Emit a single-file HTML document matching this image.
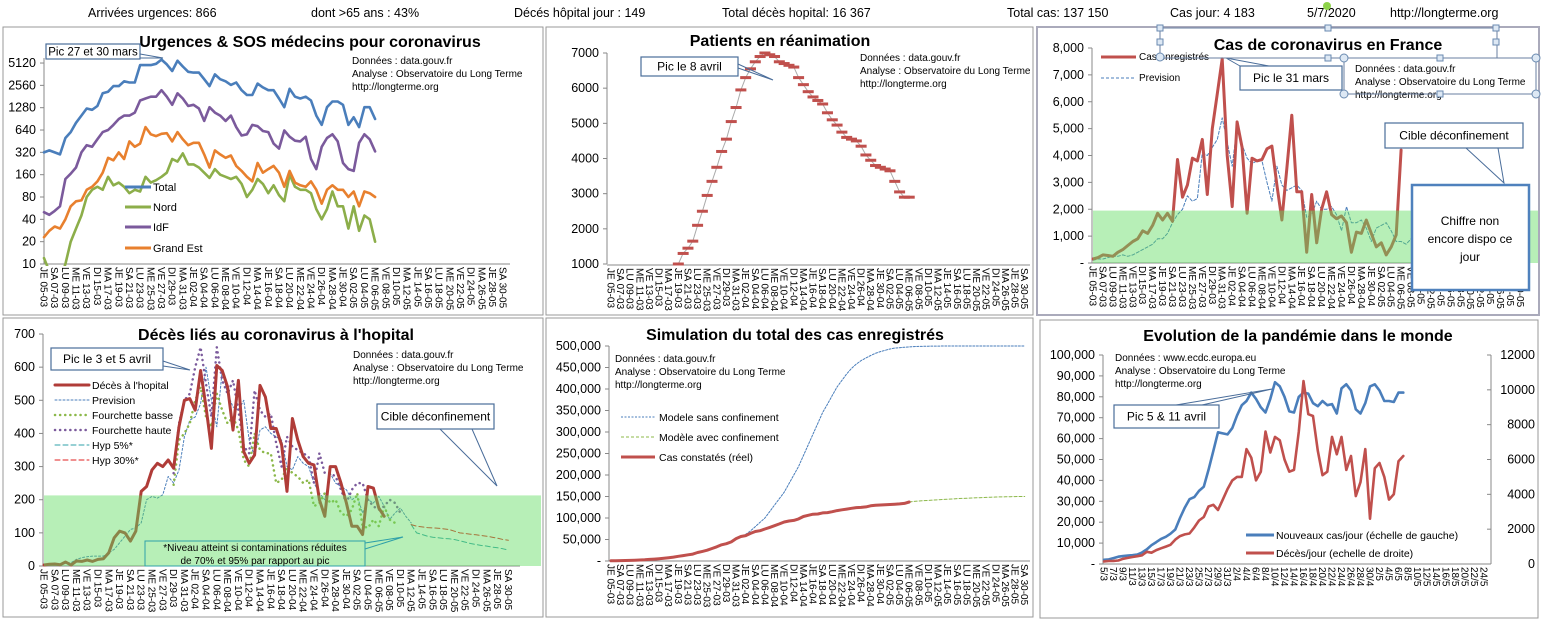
<!DOCTYPE html>
<html><head><meta charset="utf-8">
<style>
body{margin:0;background:#fff;width:1543px;height:622px;overflow:hidden;font-family:"Liberation Sans",sans-serif;}
svg{position:absolute;left:0;top:0;}
text{font-family:"Liberation Sans",sans-serif;}
</style></head><body>
<svg id="s" width="1543" height="622" xmlns="http://www.w3.org/2000/svg">
<g font-size="12.5" fill="#000">
<text x="88" y="17">Arrivées urgences:  866</text>
<text x="311" y="17">dont &gt;65 ans : 43%</text>
<text x="514" y="17">Décés hôpital jour :  149</text>
<text x="722" y="17">Total décès hopital: 16 367</text>
<text x="1007" y="17">Total cas: 137 150</text>
<text x="1170" y="17">Cas jour: 4 183</text>
<text x="1307" y="17">5/7/2020</text>
<text x="1390" y="17">http://longterme.org</text>
</g>
<circle cx="1327" cy="6" r="4" fill="#8ed34a"/>
<rect x="3" y="27" width="540" height="288" fill="none" stroke="#999"/>
<rect x="546" y="27" width="487" height="288" fill="none" stroke="#999"/>
<rect x="1037" y="27" width="502" height="288" fill="none" stroke="#aab" stroke-width="2"/>
<rect x="3" y="318" width="540" height="299" fill="none" stroke="#999"/>
<rect x="546" y="318" width="487" height="299" fill="none" stroke="#999"/>
<rect x="1040" y="320" width="498" height="298" fill="none" stroke="#999"/>
</svg>
<script>
// ---------- data ----------
const urgTotal=[320,340,320,300,500,600,800,1000,1250,1200,1350,2000,2100,2500,2500,2900,2800,2800,4800,4800,4800,5000,5700,4900,4000,5500,4600,3900,3800,3800,3100,2500,3600,3100,2900,2600,2800,2200,1900,1900,2700,2400,2200,2200,1700,1300,2300,1800,1700,1800,1600,1000,750,1300,1550,1550,1400,750,950,700,1300,1300,900];
const urgIdF=[50,46,52,60,140,165,200,320,400,380,480,600,640,750,900,1000,1000,1100,1600,1700,1800,1800,2200,1800,1400,2000,1700,1350,1400,1250,850,1300,1100,1000,850,1000,700,540,560,750,720,620,600,420,360,630,520,460,450,520,260,190,380,500,560,450,230,190,180,430,560,480,330];
const urgGE=[23,28,32,30,40,60,70,72,100,110,130,170,270,250,320,260,450,380,420,700,560,530,570,580,450,600,480,400,430,430,300,200,340,300,270,290,210,180,150,130,230,170,190,210,170,110,180,125,115,110,130,100,65,100,115,100,100,80,95,60,95,90,80];
const urgNord=[12,8,6,6,10,20,30,45,80,100,110,100,150,115,125,110,90,100,95,150,125,135,150,170,260,240,310,220,220,200,170,145,190,160,150,140,150,120,80,100,140,120,90,115,85,70,160,110,100,100,90,55,40,55,95,60,60,30,60,28,45,40,20];
const reaStart=14;
const rea=[1000,1300,1450,1650,2100,2500,2950,3350,3750,4200,4550,5050,5450,5950,6300,6550,6750,6900,7000,6950,6900,6750,6700,6650,6600,6300,6100,5900,5750,5650,5550,5300,5100,4950,4750,4600,4550,4500,4350,4100,3950,3800,3750,3700,3650,3350,3050,2900,2900];
const casFr=[150,200,300,280,250,400,500,650,800,900,1200,1100,1400,1850,1600,1850,1550,3850,2450,2900,3900,3800,4600,2550,5000,6300,7600,4000,2100,5250,4300,1850,3900,3800,3850,4250,4350,2900,1600,3500,5500,2650,2650,400,2550,750,2000,2650,1800,1650,1750,1500,400,1150,1100,1600,1100,600,750,300,600,1050,4200];
const casPrev=[100,150,150,200,250,250,300,250,300,400,500,600,700,900,900,1100,1500,1800,2000,2500,2300,2400,4100,4000,4300,4600,5400,4500,3600,5100,4400,3900,3700,3800,3800,3000,2300,3600,2900,2700,2800,2900,2700,1700,1800,2300,2000,2000,2100,1800,1200,2100,1500,1500,1600,1300,800,1300,1400,1500,1200,800,800,700,900,1100];
const deces=[3,5,6,4,12,3,15,14,18,14,20,22,40,85,105,100,75,105,225,240,290,310,300,320,295,420,500,505,470,590,480,355,605,590,540,410,560,345,310,335,545,510,415,415,365,225,445,380,330,310,305,200,150,300,300,250,190,120,120,95,240,235,175,150];
const decPrev=[3,3,4,5,8,10,20,25,28,30,30,30,40,50,70,90,110,115,130,200,210,205,215,270,250,290,390,440,450,490,600,500,420,590,520,480,470,500,380,330,410,420,400,390,380,300,290,330,310,300,250,220,200,280,250,240,230,200,210,160,200,190,210,180,140,160,175,150,130];
const basseStart=24;
const decBasse=[245,380,400,430,500,540,450,420,520,470,430,450,410,320,300,400,350,340,340,250,260,300,280,270,250,260,180,190,220,190,200,160,150,170,220,120,115,140,120,180,140,130];
const decHaute=[280,430,500,520,600,660,550,450,660,560,520,560,470,360,340,530,470,450,460,370,300,390,360,350,340,330,250,340,280,280,270,230,190,230,250,250,200,180,170,180,200,190,160];
const hypStart=68;
const hyp30=[125,120,118,116,115,114,112,110,105,100,98,96,94,92,90,87,84,80,78];
const hyp5=[125,100,95,90,87,85,83,82,80,76,72,68,65,62,60,57,55,52,48];
const simReel=[400,600,900,1200,1400,1800,2300,2900,3700,4500,5400,6600,7700,9100,10900,12600,14500,16000,19800,22300,25200,29100,33000,37600,40200,44500,52100,56900,59100,64300,68600,70500,74400,78200,82000,86300,90700,93000,94400,98000,103500,106200,108800,109300,111800,112600,114700,117300,119100,120600,122600,124100,124600,125800,128400,129600,130200,130900,131300,132200,132900,134000,137150];
const sansStart=28;
const simSans=[62000,70000,80000,90000,100000,115000,130000,145000,160000,180000,200000,220000,245000,270000,295000,320000,345000,365000,385000,405000,420000,435000,448000,458000,466000,472000,478000,483000,487000,490000,493000,495000,496000,497000,498000,498500,499000,499300,499500,499700,499800,499900,500000,500000,500000,500000,500000,500000,500000,500000,500000,500000,500000,500000,500000,500000,500000,500000,500000];
const avecStart=62;
const simAvec=[137150,138500,139500,140300,141000,141700,142300,143000,143700,144300,145000,145500,146000,146500,147000,147500,148000,148400,148800,149100,149400,149600,149800,150000,150000];
const mondeCas=[2000,2200,2800,3500,3800,4000,4200,4500,5500,7000,9000,10500,12000,13000,14500,16500,22000,27000,31000,32000,35000,37000,45000,54000,63000,62500,62000,65000,71000,76000,78000,82000,79000,75000,72500,79000,87000,85000,80000,73000,72500,80000,82000,81500,77000,75500,78000,76000,76500,72000,84000,86000,83000,74000,72000,77000,85000,86000,83000,78000,78000,77500,82000,82000];
const mondeDec=[150,170,180,200,300,350,400,450,500,700,650,800,900,1000,1100,1400,1600,1700,1750,2100,2500,2700,3300,3400,3100,3700,4300,4800,5000,5000,6600,6100,4800,5300,7600,6400,7300,7100,6000,5300,5400,7600,10500,8600,8500,6500,5100,5300,7300,6300,7300,5400,6200,3900,4700,6600,2600,5500,5800,5000,3700,4000,5900,6200];
const urgTicks=[10,20,40,80,160,320,640,1280,2560,5120];
const reaTicks=[1000,2000,3000,4000,5000,6000,7000];
const casTicks=[0,1000,2000,3000,4000,5000,6000,7000,8000];
const decTicks=[0,100,200,300,400,500,600,700];
const simTicks=[0,50000,100000,150000,200000,250000,300000,350000,400000,450000,500000];
const mondeLTicks=[0,10000,20000,30000,40000,50000,60000,70000,80000,90000,100000];
const mondeRTicks=[0,2000,4000,6000,8000,10000,12000];

// ---------- helpers ----------
const S=document.getElementById('s');const NS='http://www.w3.org/2000/svg';
function el(tag,attrs,name,parent){const e=document.createElementNS(NS,tag);for(const k in attrs)e.setAttribute(k,attrs[k]);


(parent||S).appendChild(e);return e;}
function txt(x,y,s,name,attrs){const t=el('text',Object.assign({x:x,y:y,'font-size':11},attrs||{}),name);t.textContent=s;return t;}
function series(vals,start,X,Y,attrs,name){const pts=vals.map((v,i)=>X(start+i).toFixed(1)+','+Y(v).toFixed(1)).join(' ');
return el('polyline',Object.assign({points:pts,fill:'none','stroke-linejoin':'round','stroke-linecap':'round'},attrs),name);}
const fmt=v=>v===0?'-':v.toLocaleString('en-US');
function yAxis(x,ticks,Y,lab,name,anchorRight){ticks.forEach(t=>{
el('line',{x1:anchorRight?x:x-4,x2:anchorRight?x+4:x,y1:Y(t),y2:Y(t),stroke:'#888'},name+'-tick');
txt(anchorRight?x+10:x-8,Y(t)+4,lab(t),name+'-label',{'font-size':12.5,'text-anchor':anchorRight?'start':'end'});});}
const DN=['DI','LU','MA','ME','JE','VE','SA'];
function dateLab(i){const d=new Date(2020,2,5+i);return DN[d.getDay()]+' '+String(d.getDate()).padStart(2,'0')+'-'+String(d.getMonth()+1).padStart(2,'0');}
function xAxis(X,y,x0,x1,name,labfn,n){el('line',{x1:x0,x2:x1,y1:y,y2:y,stroke:'#888'},name+'-line');
for(let i=0;i<=n;i+=2){const x=X(i);const t=el('text',{x:0,y:0,'font-size':10,transform:`translate(${(x-3.5).toFixed(1)},${y+3}) rotate(90)`},name+'-label');t.textContent=labfn(i);}}
function box(x,y,w,h,s,name,fs,stroke){el('rect',{x:x,y:y,width:w,height:h,fill:'#fff',stroke:stroke||'#4a6d9a','stroke-width':1.2},name);
txt(x+w/2,y+h/2+4,s,name+'-text',{'font-size':fs||12,'text-anchor':'middle'});}
function title(x,y,s,name){txt(x,y,s,name,{'font-size':16,'font-weight':'bold','text-anchor':'middle'});}
function src(x,y,lines,name){lines.forEach((l,i)=>txt(x,y+i*13,l,name,{'font-size':10}));}
const SRC=['Données : data.gouv.fr','Analyse : Observatoire du Long Terme','http://longterme.org'];

// ---------- chart 1: urgences ----------
{const X=i=>44+i*5.34, Y=v=>264-Math.log2(v/10)*22.33;
el('line',{x1:44,x2:44,y1:58,y2:264,stroke:'#888'},'urg-y-axis');
yAxis(44,urgTicks,Y,t=>String(t),'urg-y');
xAxis(X,264,44,510,'urg-x',dateLab,86);
const clip=el('clipPath',{id:'c1'},'urg-clip');el('rect',{x:40,y:30,width:480,height:236},'urg-clip-rect',clip);
const g=el('g',{'clip-path':'url(#c1)'},'urg-series');
[[urgTotal,'#4a7ebb','urg-total'],[urgNord,'#8cae4a','urg-nord'],[urgIdF,'#7b5a9c','urg-idf'],[urgGE,'#e8802e','urg-grand-est']].forEach(s=>{g.appendChild(series(s[0],0,X,Y,{stroke:s[1],'stroke-width':2.6},s[2]));});
title(310,47,'Urgences & SOS médecins pour coronavirus','urg-title');
src(352,64,SRC,'urg-source');
[['Total','#4a7ebb',191],['Nord','#8cae4a',211],['IdF','#7b5a9c',231],['Grand Est','#e8802e',252]].forEach(l=>{
el('line',{x1:125,x2:151,y1:l[2]-4,y2:l[2]-4,stroke:l[1],'stroke-width':3},'urg-legend-swatch');
txt(153,l[2],l[0],'urg-legend-label',{'font-size':11});});
el('polyline',{points:'140,54 163,58 140,58',fill:'none',stroke:'#4a6d9a'},'urg-callout-pointer');
box(46,44,94,15,'Pic 27 et 30 mars','urg-callout',11.5);}

// ---------- chart 2: reanimation ----------
{const X=i=>611+i*4.81, Y=v=>264-(v-1000)*211/6000;
el('line',{x1:607,x2:607,y1:53,y2:264,stroke:'#888'},'rea-y-axis');
yAxis(607,reaTicks,Y,t=>String(t),'rea-y');
xAxis(X,265,607,1030,'rea-x',dateLab,86);
series(rea,reaStart,X,Y,{stroke:'#aaa','stroke-width':1},'rea-line');
rea.forEach((v,i)=>{el('rect',{x:X(reaStart+i)-5.5,y:Y(v)-1.5,width:11,height:3,fill:'#c0504d'},'rea-marker');});
title(780,46,'Patients en réanimation','rea-title');
src(860,61,SRC,'rea-source');
el('polyline',{points:'738,64 773,80 738,68',fill:'none',stroke:'#4a6d9a'},'rea-callout-pointer');
box(641,57,97,19,'Pic le 8 avril','rea-callout',12);}

// ---------- chart 3: cas France ----------
{const X=i=>1093+i*4.97, Y=v=>263-v*215/8000;
el('line',{x1:1092,x2:1092,y1:48,y2:263,stroke:'#888'},'cas-y-axis');
yAxis(1092,casTicks,Y,fmt,'cas-y');
xAxis(X,263,1088,1530,'cas-x',dateLab,86);
series(casPrev,0,X,Y,{stroke:'#4a7ebb','stroke-width':1,'stroke-dasharray':'3,2'},'cas-prevision');
series(casFr,0,X,Y,{stroke:'#c0504d','stroke-width':3},'cas-enregistres');
el('rect',{x:1093,y:Y(1950),width:445,height:263-Y(1950),fill:'#5fdc5f','fill-opacity':0.45},'cas-cible-band');
title(1328,50,'Cas de coronavirus en France','cas-title');
el('line',{x1:1101,x2:1136,y1:57,y2:57,stroke:'#c0504d','stroke-width':3},'cas-legend-swatch');
txt(1139,60,'Cas enregistrés','cas-legend-label',{'font-size':10});
el('line',{x1:1101,x2:1136,y1:78,y2:78,stroke:'#4a7ebb','stroke-dasharray':'3,2'},'cas-legend-swatch');
txt(1139,81,'Prevision','cas-legend-label',{'font-size':10});
el('polyline',{points:'1240,66 1226,58 1280,68',fill:'none',stroke:'#4a6d9a'},'cas-callout-pointer');
box(1240,66,102,24,'Pic le 31  mars','cas-callout',12);
src(1355,72,SRC,'cas-source');
el('rect',{x:1344,y:58,width:192,height:36,fill:'none',stroke:'#6a7fa0'},'cas-source-selection');
el('rect',{x:1160,y:28,width:337,height:30,fill:'none',stroke:'#6a7fa0'},'cas-title-selection');
[[1160,28],[1328,28],[1496,28],[1160,42],[1496,42],[1328,58],[1440,58],[1440,94]].forEach(p=>el('rect',{x:p[0]-3,y:p[1]-3,width:6,height:6,fill:'#dde8f4',stroke:'#6a8ab0'},'selection-handle'));
[[1160,57],[1344,58],[1536,58],[1344,94],[1536,94]].forEach(p=>el('circle',{cx:p[0],cy:p[1],r:4,fill:'#dde8f4',stroke:'#6a8ab0'},'selection-handle'));
el('polyline',{points:'1466,148 1504,183 1498,148',fill:'none',stroke:'#4a6d9a'},'cas-cible-pointer');
box(1385,123,138,25,'Cible déconfinement','cas-cible-callout',12);
el('rect',{x:1412,y:185,width:117,height:105,fill:'#fff',stroke:'#4f81bd','stroke-width':2.5},'cas-non-dispo-box');
txt(1470,225,'Chiffre non','cas-non-dispo-text',{'font-size':12,'text-anchor':'middle'});
txt(1470,243,'encore dispo ce','cas-non-dispo-text',{'font-size':12,'text-anchor':'middle'});
txt(1470,261,'jour','cas-non-dispo-text',{'font-size':12,'text-anchor':'middle'});}

// ---------- chart 4: deces ----------
{const X=i=>44+i*5.4, Y=v=>566-v*0.3314;
el('line',{x1:43,x2:43,y1:334,y2:566,stroke:'#888'},'dec-y-axis');
yAxis(43,decTicks,Y,t=>String(t),'dec-y');
xAxis(X,566,43,520,'dec-x',dateLab,86);
series(decPrev,0,X,Y,{stroke:'#4a7ebb','stroke-width':1,'stroke-dasharray':'2,2'},'dec-prevision');
series(decBasse,basseStart,X,Y,{stroke:'#8cb84a','stroke-width':2.5,'stroke-dasharray':'0.1,5'},'dec-fourchette-basse');
series(decHaute,basseStart,X,Y,{stroke:'#7b5a9c','stroke-width':2.5,'stroke-dasharray':'0.1,5'},'dec-fourchette-haute');
series(hyp5,hypStart,X,Y,{stroke:'#2fa0a8','stroke-width':1,'stroke-dasharray':'5,3'},'dec-hyp5');
series(hyp30,hypStart,X,Y,{stroke:'#e02020','stroke-width':1,'stroke-dasharray':'5,3'},'dec-hyp30');
series(deces,0,X,Y,{stroke:'#b03c38','stroke-width':3},'dec-hopital');
el('rect',{x:44,y:Y(213),width:497,height:566-Y(213),fill:'#5fdc5f','fill-opacity':0.45},'dec-cible-band');
title(276,340,"Décès liés au coronavirus à l'hopital",'dec-title');
src(353,358,SRC,'dec-source');
el('polyline',{points:'163,361 190,370 163,366',fill:'none',stroke:'#4a6d9a'},'dec-callout-pointer');
box(51,348,112,22,'Pic le 3 et 5 avril','dec-callout',12);
const leg=[["Décès à l'hopital",'#b03c38',3,'none'],['Prevision','#4a7ebb',1,'2,2'],['Fourchette basse','#8cb84a',2.5,'0.1,5'],['Fourchette haute','#7b5a9c',2.5,'0.1,5'],['Hyp 5%*','#2fa0a8',1,'5,3'],['Hyp 30%*','#e02020',1,'5,3']];
leg.forEach((l,i)=>{const y=389+i*15;el('line',{x1:55,x2:89,y1:y-4,y2:y-4,stroke:l[1],'stroke-width':l[2],'stroke-dasharray':l[3],'stroke-linecap':'round'},'dec-legend-swatch');
txt(92,y,l[0],'dec-legend-label',{'font-size':10.5});});
el('polyline',{points:'440,429 497,486 472,429',fill:'none',stroke:'#4a6d9a'},'dec-cible-pointer');
box(377,404,117,25,'Cible déconfinement','dec-cible-callout',12);
el('polyline',{points:'365,543 403,537 365,549',fill:'none',stroke:'#2fa0a8'},'dec-note-pointer');
el('rect',{x:145,y:541,width:220,height:25,fill:'none',stroke:'#2fa0a8'},'dec-note-box');
txt(255,551,'*Niveau atteint si contaminations réduites','dec-note-text',{'font-size':10,'text-anchor':'middle'});
txt(255,564,'de 70% et 95% par rapport au pic','dec-note-text',{'font-size':10,'text-anchor':'middle'});}

// ---------- chart 5: simulation ----------
{const X=i=>611+i*4.81, Y=v=>561-v*215/500000;
el('line',{x1:609,x2:609,y1:346,y2:561,stroke:'#888'},'sim-y-axis');
yAxis(609,simTicks,Y,fmt,'sim-y');
xAxis(X,561,609,1030,'sim-x',dateLab,86);
series(simSans,sansStart,X,Y,{stroke:'#4a7ebb','stroke-width':1,'stroke-dasharray':'2,1.5'},'sim-sans-confinement');
series(simAvec,avecStart,X,Y,{stroke:'#8cb84a','stroke-width':1,'stroke-dasharray':'3,2'},'sim-avec-confinement');
series(simReel,0,X,Y,{stroke:'#c0504d','stroke-width':3},'sim-reel');
title(795,340,'Simulation du total des cas enregistrés','sim-title');
src(615,362,SRC,'sim-source');
[['Modele sans confinement','#4a7ebb',1,'2,1.5',421],['Modèle avec confinement','#8cb84a',1,'3,2',441],['Cas constatés (réel)','#c0504d',3,'none',461]].forEach(l=>{
el('line',{x1:621,x2:655,y1:l[4]-4,y2:l[4]-4,stroke:l[1],'stroke-width':l[2],'stroke-dasharray':l[3]},'sim-legend-swatch');
txt(659,l[4],l[0],'sim-legend-label',{'font-size':10.5});});}

// ---------- chart 6: monde ----------
{const X=i=>1104+i*4.75, YL=v=>564-v*209/100000, YR=v=>564-v*209/12000;
el('line',{x1:1103,x2:1103,y1:355,y2:564,stroke:'#888'},'monde-y-axis-left');
el('line',{x1:1491,x2:1491,y1:355,y2:564,stroke:'#888'},'monde-y-axis-right');
yAxis(1103,mondeLTicks,YL,fmt,'monde-y-left');
mondeRTicks.forEach(t=>{el('line',{x1:1487,x2:1491,y1:YR(t),y2:YR(t),stroke:'#888'},'monde-y-right-tick');
txt(1535,YR(t)+4,String(t),'monde-y-right-label',{'font-size':12.5,'text-anchor':'end'});});
el('line',{x1:1103,x2:1491,y1:564,y2:564,stroke:'#888'},'monde-x-line');
for(let i=0;i<=80;i+=2){const d=new Date(2020,2,5+i);const t=el('text',{x:0,y:0,'font-size':10,transform:`translate(${(X(i)-3.5).toFixed(1)},567) rotate(90)`},'monde-x-label');t.textContent=d.getDate()+'/'+(d.getMonth()+1);}
series(mondeCas,0,X,YL,{stroke:'#4a7ebb','stroke-width':2.6},'monde-cas');
series(mondeDec,0,X,YR,{stroke:'#c0504d','stroke-width':2.6},'monde-deces');
title(1298,341,'Evolution de la pandémie dans le monde','monde-title');
src(1115,361,['Données : www.ecdc.europa.eu','Analyse : Observatoire du Long Terme','http://longterme.org'],'monde-source');
el('polyline',{points:'1176,405 1272,389 1202,405',fill:'none',stroke:'#4a6d9a'},'monde-callout-pointer');
box(1114,405,105,23,'Pic  5 & 11 avril','monde-callout',12);
[['Nouveaux cas/jour  (échelle de gauche)','#4a7ebb',539],['Décès/jour (echelle de droite)','#c0504d',557]].forEach(l=>{
el('line',{x1:1246,x2:1274,y1:l[2]-4,y2:l[2]-4,stroke:l[1],'stroke-width':3},'monde-legend-swatch');
txt(1276,l[2],l[0],'monde-legend-label',{'font-size':10.5});});}
</script>
</body></html>
